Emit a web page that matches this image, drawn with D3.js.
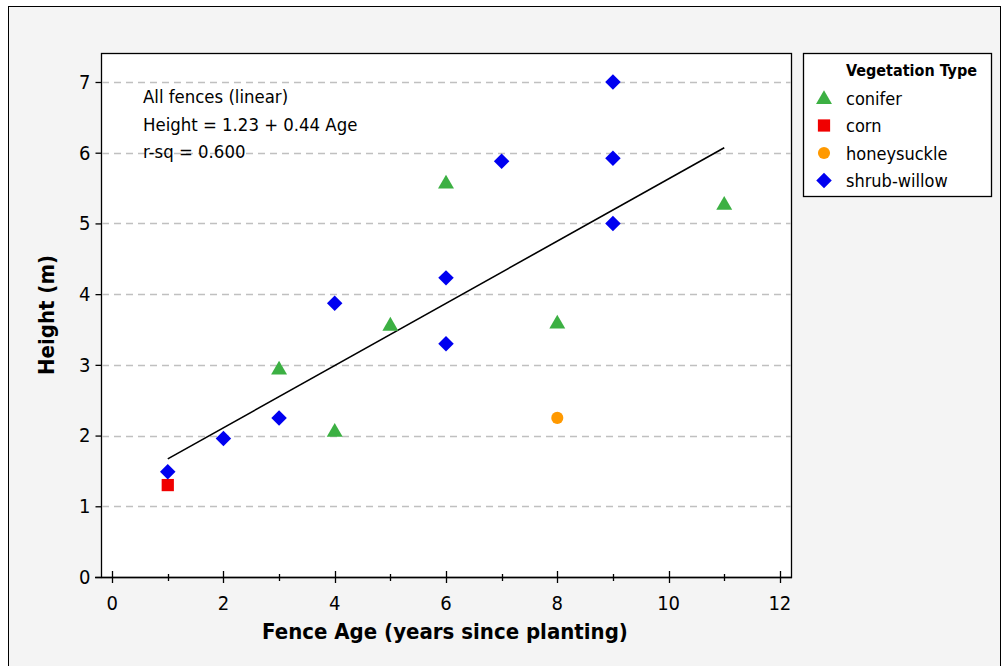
<!DOCTYPE html>
<html>
<head>
<meta charset="utf-8">
<script src="https://cdn.jsdelivr.net/npm/d3@7"></script>
<style>
  body { margin: 0; background: #fff; }
  text { font-family: "DejaVu Sans Condensed", "DejaVu Sans", sans-serif; }
</style>
</head>
<body>
  <div id="chart"></div>
  <script>
    // data
    var types = ["conifer", "corn", "honeysuckle", "shrub-willow"];
    var coniferAge = [3, 4, 5, 6, 8, 11];
    var coniferHeight = [2.95, 2.07, 3.57, 5.58, 3.6, 5.28];
    var cornAge = [1];
    var cornHeight = [1.3];
    var honeyAge = [8];
    var honeyHeight = [2.25];
    var willowAge = [1, 2, 3, 4, 6, 6, 7, 9, 9, 9];
    var willowHeight = [1.49, 1.96, 2.25, 3.87, 4.23, 3.3, 5.88, 7.0, 5.92, 5.0];
    var fitIntercept = 1.23, fitSlope = 0.44, fitFrom = 1, fitTo = 11;
    var notes = ["All fences (linear)", "Height = 1.23 + 0.44 Age", "r-sq = 0.600"];
    var xTicks = [0, 2, 4, 6, 8, 10, 12];
    var xMinor = [1, 3, 5, 7, 9, 11];
    var yTicks = [0, 1, 2, 3, 4, 5, 6, 7];

    var colors = {"conifer": "#3cb043", "corn": "#f00000", "honeysuckle": "#ff9900", "shrub-willow": "#0000f0"};
    var shapes = {"conifer": d3.symbolTriangle, "corn": d3.symbolSquare, "honeysuckle": d3.symbolCircle, "shrub-willow": d3.symbolSquare};
    var sizes = {"conifer": 110, "corn": 150, "honeysuckle": 115, "shrub-willow": 120};

    var W = 1003, H = 666;
    var plot = {left: 101, top: 53, right: 791, bottom: 577};

    var svg = d3.select("#chart").append("svg")
      .attr("width", W).attr("height", H);

    svg.append("rect")
      .attr("x", 8.5).attr("y", 6.5).attr("width", 992).attr("height", 670)
      .attr("fill", "#f4f4f4").attr("stroke", "#000");

    var x = d3.scaleLinear().domain([-0.2, 12.2]).range([plot.left, plot.right]);
    var y = d3.scaleLinear().domain([0, 7.41]).range([plot.bottom, plot.top]);

    svg.append("rect")
      .attr("x", plot.left + 0.5).attr("y", plot.top + 0.5)
      .attr("width", plot.right - plot.left).attr("height", plot.bottom - plot.top)
      .attr("fill", "#fff").attr("stroke", "#000").attr("stroke-width", 1.3);

    // gridlines
    svg.append("g").selectAll("line")
      .data(yTicks.filter(function(d) { return d > 0; }))
      .enter().append("line")
      .attr("x1", plot.left + 1).attr("x2", plot.right)
      .attr("y1", function(d) { return Math.round(y(d)) + 0.5; })
      .attr("y2", function(d) { return Math.round(y(d)) + 0.5; })
      .attr("stroke", "#c0c0c0").attr("stroke-width", 1.5)
      .attr("stroke-dasharray", "7,5");

    // y axis
    var yAxis = svg.append("g")
      .attr("transform", "translate(" + (plot.left + 0.5) + ",0)")
      .call(d3.axisLeft(y).tickValues(yTicks).tickSize(6).tickPadding(5).tickFormat(d3.format("d")));
    yAxis.select(".domain").remove();
    yAxis.selectAll("line").attr("stroke-width", 1.3);
    yAxis.selectAll("text").attr("font-size", 20).attr("fill", "#000");

    // x axis: major ticks cross the line, minor ones too
    var xg = svg.append("g");
    xg.append("line")
      .attr("x1", plot.left - 6).attr("x2", plot.right + 1)
      .attr("y1", plot.bottom + 0.5).attr("y2", plot.bottom + 0.5)
      .attr("stroke", "#000").attr("stroke-width", 1.3);
    xg.selectAll(".major").data(xTicks).enter().append("line")
      .attr("x1", function(d) { return Math.round(x(d)) + 0.5; })
      .attr("x2", function(d) { return Math.round(x(d)) + 0.5; })
      .attr("y1", plot.bottom - 6).attr("y2", plot.bottom + 6)
      .attr("stroke", "#000").attr("stroke-width", 1.3);
    xg.selectAll(".minor").data(xMinor).enter().append("line")
      .attr("x1", function(d) { return Math.round(x(d)) + 0.5; })
      .attr("x2", function(d) { return Math.round(x(d)) + 0.5; })
      .attr("y1", plot.bottom - 3).attr("y2", plot.bottom + 4)
      .attr("stroke", "#000").attr("stroke-width", 1.3);
    xg.selectAll("text").data(xTicks).enter().append("text")
      .attr("x", function(d) { return x(d); })
      .attr("y", plot.bottom + 33)
      .attr("text-anchor", "middle").attr("font-size", 20)
      .text(function(d) { return d; });

    // axis titles
    svg.append("text")
      .attr("x", 445).attr("y", 639)
      .attr("text-anchor", "middle").attr("font-size", 22).attr("font-weight", "bold")
      .text("Fence Age (years since planting)");
    svg.append("text")
      .attr("transform", "translate(54,315) rotate(-90)")
      .attr("text-anchor", "middle").attr("font-size", 22).attr("font-weight", "bold")
      .text("Height (m)");

    // fitted line
    svg.append("line")
      .attr("x1", x(fitFrom)).attr("y1", y(fitIntercept + fitSlope * fitFrom))
      .attr("x2", x(fitTo)).attr("y2", y(fitIntercept + fitSlope * fitTo))
      .attr("stroke", "#000").attr("stroke-width", 1.6);

    // annotation
    svg.append("g").selectAll("text").data(notes).enter().append("text")
      .attr("x", 143).attr("y", function(d, i) { return 103 + i * 27.5; })
      .attr("font-size", 18.4)
      .text(function(d) { return d; });

    // points
    var points = [];
    function addPoints(type, ages, heights) {
      ages.forEach(function(a, i) { points.push({type: type, age: a, height: heights[i]}); });
    }
    addPoints("conifer", coniferAge, coniferHeight);
    addPoints("corn", cornAge, cornHeight);
    addPoints("honeysuckle", honeyAge, honeyHeight);
    addPoints("shrub-willow", willowAge, willowHeight);

    function markerTransform(type, px, py) {
      var dy = type == "conifer" ? 1.5 : 0;
      var rot = type == "shrub-willow" ? " rotate(45)" : "";
      return "translate(" + px + "," + (py + dy) + ")" + rot;
    }

    svg.append("g").selectAll("path").data(points).enter().append("path")
      .attr("transform", function(d) { return markerTransform(d.type, x(d.age), y(d.height)); })
      .attr("d", function(d) { return d3.symbol().type(shapes[d.type]).size(sizes[d.type])(); })
      .attr("fill", function(d) { return colors[d.type]; });

    // legend
    var lg = svg.append("g");
    lg.append("rect")
      .attr("x", 803.5).attr("y", 53.5).attr("width", 188).attr("height", 143)
      .attr("fill", "#fff").attr("stroke", "#000").attr("stroke-width", 1.3);
    lg.append("text")
      .attr("x", 846).attr("y", 76).attr("font-size", 16).attr("font-weight", "bold")
      .text("Vegetation Type");
    var items = lg.selectAll(".item").data(types).enter().append("g")
      .attr("transform", function(d, i) { return "translate(0," + (98 + i * 27.5) + ")"; });
    items.append("path")
      .attr("transform", function(d) { return markerTransform(d, 824, 0); })
      .attr("d", function(d) { return d3.symbol().type(shapes[d]).size(sizes[d])(); })
      .attr("fill", function(d) { return colors[d]; });
    items.append("text")
      .attr("x", 846).attr("y", 6.5).attr("font-size", 18)
      .text(function(d) { return d; });
  </script>
</body>
</html>
